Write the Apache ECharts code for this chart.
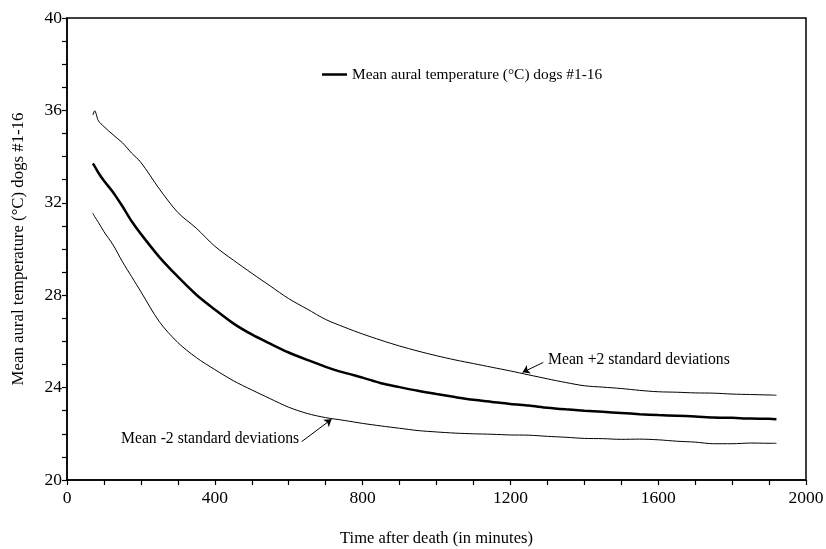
<!DOCTYPE html>
<html>
<head>
<meta charset="utf-8">
<script src="https://cdn.jsdelivr.net/npm/echarts@6/dist/echarts.min.js"></script>
<style>
html,body{margin:0;padding:0;background:#fff;}
#chart{width:826px;height:549px;}
</style>
</head>
<body>
<div id="chart"></div>
<script>
// minutes after death
var times = [70, 75, 85, 100, 125, 150, 175, 200, 250, 300, 350, 400, 450, 500, 550, 600, 650, 700, 750, 800,
	850, 900, 950, 1000, 1050, 1100, 1150, 1200, 1250, 1300, 1350, 1400, 1450, 1500, 1550, 1600, 1650, 1700,
	1750, 1800, 1850, 1900, 1920];
// mean aural temperature
var meanTemp = [33.70, 33.58, 33.30, 32.95, 32.45, 31.85, 31.20, 30.65, 29.65, 28.80, 28.02, 27.38, 26.78, 26.30,
	25.90, 25.52, 25.20, 24.90, 24.65, 24.43, 24.19, 24.02, 23.86, 23.72, 23.59, 23.47, 23.38, 23.29, 23.22,
	23.13, 23.06, 23.00, 22.95, 22.90, 22.85, 22.81, 22.78, 22.75, 22.71, 22.69, 22.66, 22.65, 22.63];
// mean +2 sd
var upperTemp = [35.80, 35.98, 35.55, 35.30, 34.94, 34.60, 34.15, 33.75, 32.60, 31.58, 30.90, 30.12, 29.52, 28.95,
	28.40, 27.85, 27.40, 26.95, 26.62, 26.32, 26.05, 25.80, 25.58, 25.38, 25.20, 25.04, 24.88, 24.72, 24.55,
	24.38, 24.22, 24.08, 24.02, 23.96, 23.88, 23.82, 23.80, 23.77, 23.76, 23.72, 23.70, 23.68, 23.67];
// mean -2 sd
var lowerTemp = [31.55, 31.40, 31.15, 30.75, 30.17, 29.45, 28.80, 28.15, 26.85, 25.95, 25.30, 24.78, 24.30, 23.90,
	23.52, 23.15, 22.88, 22.70, 22.58, 22.45, 22.34, 22.24, 22.14, 22.08, 22.03, 22.00, 21.98, 21.95, 21.94,
	21.89, 21.85, 21.80, 21.79, 21.76, 21.77, 21.74, 21.68, 21.64, 21.57, 21.57, 21.60, 21.59, 21.59];
// annotation arrows [tail, tip] in data units
var upperArrow = [[1289, 25.09], [1233, 24.66]];
var lowerArrow = [[635, 21.66], [716, 22.63]];

var meanName = 'Mean aural temperature (°C) dogs #1-16';
var FONT = "'Liberation Serif', 'Times New Roman', serif";

function pairs(ys) {
	var out = [];
	for (var i = 0; i < times.length; i++) {
		out.push([times[i], ys[i]]);
	}
	return out;
}

var myChart = echarts.init(document.getElementById('chart'));
var option = {
	animation: false,
	backgroundColor: '#fff',
	textStyle: { fontFamily: FONT, color: '#000' },
	grid: {
		left: 67, right: 20, top: 18, bottom: 69,
		containLabel: false,
		outerBoundsMode: 'none',
		show: true, borderColor: '#000', borderWidth: 1.5
	},
	legend: {
		data: [meanName],
		left: 317, top: 62,
		icon: 'rect',
		itemWidth: 25, itemHeight: 2.5,
		itemGap: 5,
		textStyle: { fontFamily: FONT, fontSize: 15.4, color: '#000' }
	},
	xAxis: {
		type: 'value',
		min: 0, max: 2000, interval: 400,
		name: 'Time after death (in minutes)',
		nameLocation: 'middle',
		nameGap: 50,
		nameTextStyle: { fontFamily: FONT, fontSize: 16.5, color: '#000' },
		axisLine: { lineStyle: { color: '#000', width: 1.5 } },
		axisTick: { show: true, inside: false, length: 5, lineStyle: { color: '#000', width: 1.2 } },
		minorTick: { show: true, splitNumber: 4, length: 5, lineStyle: { color: '#000', width: 1.2 } },
		axisLabel: {
			fontFamily: FONT, fontSize: 17.5, color: '#000', margin: 9,
			formatter: function (v) { return String(v); }
		},
		splitLine: { show: false }
	},
	yAxis: {
		type: 'value',
		min: 20, max: 40, interval: 4,
		name: meanName,
		nameLocation: 'middle',
		nameGap: 40,
		nameTextStyle: { fontFamily: FONT, fontSize: 16.8, color: '#000' },
		axisLine: { show: true, lineStyle: { color: '#000', width: 1.5 } },
		axisTick: { show: true, inside: false, length: 5, lineStyle: { color: '#000', width: 1.2 } },
		minorTick: { show: true, splitNumber: 4, length: 5, lineStyle: { color: '#000', width: 1.2 } },
		axisLabel: { fontFamily: FONT, fontSize: 17.5, color: '#000', margin: 5 },
		splitLine: { show: false }
	},
	graphic: [
		{ type: 'text', left: 548, top: 352, style: { text: 'Mean +2 standard deviations', font: '15.7px ' + FONT, fill: '#000' } },
		{ type: 'text', left: 121, top: 431, style: { text: 'Mean -2 standard deviations', font: '15.7px ' + FONT, fill: '#000' } }
	],
	series: [
		{
			name: 'upper',
			type: 'line',
			data: pairs(upperTemp),
			showSymbol: false,
			smooth: 0.3,
			lineStyle: { color: '#000', width: 1 },
			markLine: {
				silent: true, symbol: ['none', 'arrow'], symbolSize: 7,
				label: { show: false },
				lineStyle: { color: '#000', width: 1, type: 'solid' },
				data: [[{ coord: upperArrow[0] }, { coord: upperArrow[1] }]]
			}
		},
		{
			name: meanName,
			type: 'line',
			data: pairs(meanTemp),
			showSymbol: false,
			smooth: 0.3,
			itemStyle: { color: '#000' },
			lineStyle: { color: '#000', width: 2.5 }
		},
		{
			name: 'lower',
			type: 'line',
			data: pairs(lowerTemp),
			showSymbol: false,
			smooth: 0.3,
			lineStyle: { color: '#000', width: 1 },
			markLine: {
				silent: true, symbol: ['none', 'arrow'], symbolSize: 7,
				label: { show: false },
				lineStyle: { color: '#000', width: 1, type: 'solid' },
				data: [[{ coord: lowerArrow[0] }, { coord: lowerArrow[1] }]]
			}
		}
	]
};
myChart.setOption(option);
</script>
</body>
</html>
